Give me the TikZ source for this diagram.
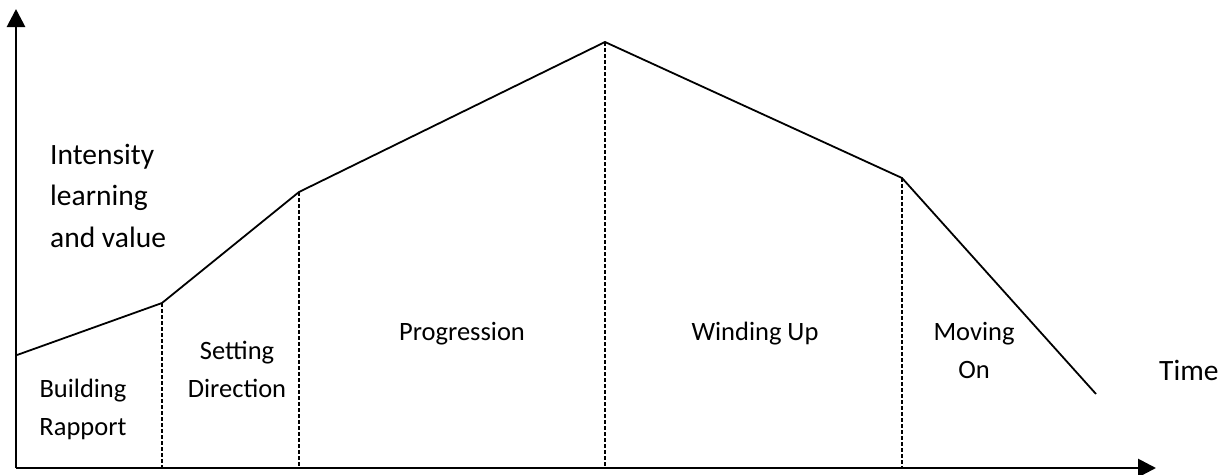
\documentclass[tikz,border=0pt]{standalone}
\usepackage{fontspec}
\setmainfont{Carlito}
\usetikzlibrary{arrows.meta}
\begin{document}
\begin{tikzpicture}[x=1pt,y=-1pt,
  axis/.style={line width=2.8pt,-{Triangle[length=18pt,width=18pt]}},
  curve/.style={line width=1.8pt,line join=miter},
  guide/.style={line width=1.3pt,dash pattern=on 3.5pt off 2.5pt},
  lbl/.style={font=\fontsize{26.5}{38}\selectfont,align=center,inner sep=0pt},
  big/.style={font=\fontsize{29.5}{41.5}\selectfont,align=left,inner sep=0pt}]
\useasboundingbox (0,0) rectangle (1230,474);
\coordinate (o) at (16,468);
\coordinate (ytop) at (16,9);
\coordinate (xend) at (1156,468);
\coordinate (p0) at (17,355);
\coordinate (p1) at (162,303);
\coordinate (p2) at (299,192);
\coordinate (p3) at (605,42);
\coordinate (p4) at (902,178);
\coordinate (p5) at (1096,394);
\coordinate (b1) at (162,468);
\coordinate (b2) at (299,468);
\coordinate (b3) at (605,468);
\coordinate (b4) at (902,468);
\draw[guide] (p1) -- (b1);
\draw[guide] (p2) -- (b2);
\draw[guide] (p3) -- (b3);
\draw[guide] (p4) -- (b4);
\draw[curve] (p0) -- (p1) -- (p2) -- (p3) -- (p4) -- (p5);
\draw[axis] (o) -- (ytop);
\draw[axis] (o) -- (xend);
\node[big,anchor=base west] (intensity) at (50,247) {Intensity\\learning\\and value};
\node[lbl,anchor=base] (br) at (83,435) {Building\\Rapport};
\node[lbl,anchor=base] (sd) at (237,397) {Setting\\Direction};
\node[lbl,anchor=base] (pr) at (462,340) {Progression};
\node[lbl,anchor=base] (wu) at (755,340) {Winding Up};
\node[lbl,anchor=base] (mo) at (974,378) {Moving\\On};
\node[big,anchor=base west] (time) at (1159,380) {Time};
\end{tikzpicture}
\end{document}
